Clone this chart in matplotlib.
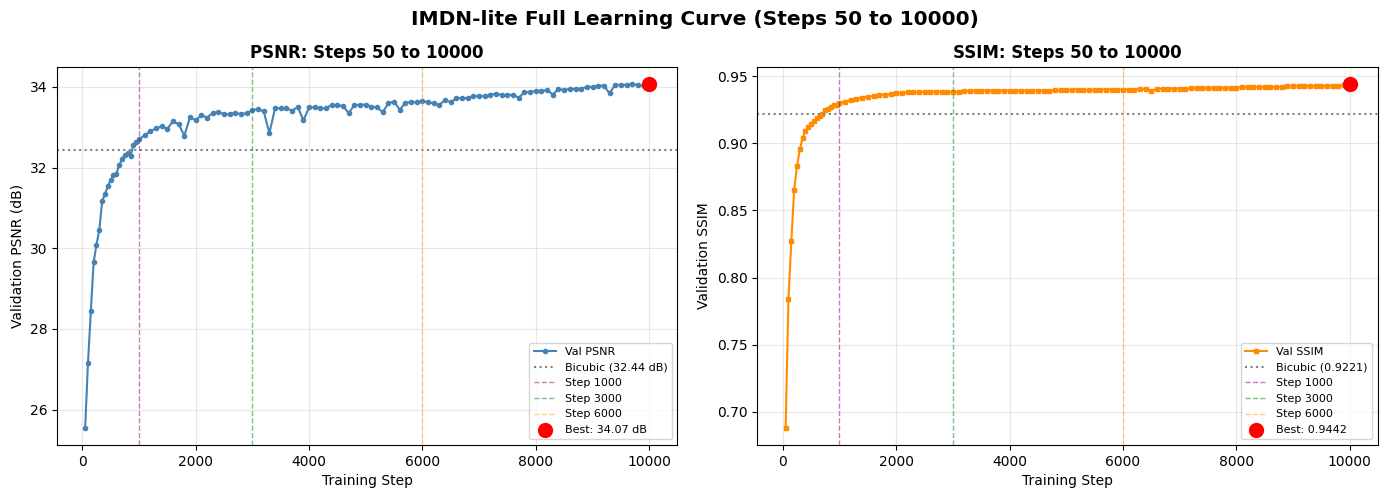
import matplotlib
matplotlib.use('Agg')
import matplotlib.pyplot as plt

# evaluation schedule: every 50 steps up to 1000, then every 100
steps = list(range(50, 1001, 50)) + list(range(1100, 10001, 100))

val_psnr = [
    25.55, 27.16, 28.44, 29.66, 30.09, 30.46, 31.17, 31.34, 31.54, 31.69,
    31.82, 31.85, 32.06, 32.20, 32.32, 32.36, 32.28, 32.55, 32.63, 32.70,
    32.80, 32.90, 32.97, 33.02, 32.96, 33.15, 33.07, 32.79, 33.25, 33.17,
    33.30, 33.24, 33.35, 33.38, 33.32, 33.32, 33.36, 33.32, 33.35, 33.42,
    33.45, 33.39, 32.85, 33.47, 33.47, 33.47, 33.41, 33.50, 33.17, 33.49,
    33.49, 33.47, 33.47, 33.55, 33.55, 33.52, 33.35, 33.55, 33.55, 33.56,
    33.51, 33.49, 33.37, 33.60, 33.63, 33.43, 33.61, 33.62, 33.62, 33.65,
    33.62, 33.59, 33.56, 33.67, 33.62, 33.72, 33.72, 33.72, 33.77, 33.77,
    33.77, 33.81, 33.83, 33.80, 33.80, 33.80, 33.73, 33.87, 33.87, 33.90,
    33.90, 33.92, 33.81, 33.95, 33.92, 33.95, 33.95, 33.95, 34.00, 34.00,
    34.03, 34.03, 33.84, 34.05, 34.05, 34.05, 34.06, 34.05, 34.03, 34.07,
]

val_ssim = [
    0.6880, 0.7840, 0.8270, 0.8650, 0.8830, 0.8955, 0.9040, 0.9090, 0.9120, 0.9146,
    0.9169, 0.9189, 0.9201, 0.9219, 0.9246, 0.9259, 0.9272, 0.9282, 0.9289, 0.9299,
    0.9309, 0.9322, 0.9332, 0.9340, 0.9347, 0.9354, 0.9358, 0.9362, 0.9367, 0.9372,
    0.9374, 0.9379, 0.9380, 0.9380, 0.9381, 0.9385, 0.9385, 0.9385, 0.9383, 0.9381,
    0.9382, 0.9387, 0.9392, 0.9392, 0.9393, 0.9392, 0.9393, 0.9392, 0.9393, 0.9392,
    0.9393, 0.9392, 0.9392, 0.9393, 0.9393, 0.9392, 0.9393, 0.9394, 0.9394, 0.9395,
    0.9400, 0.9401, 0.9395, 0.9396, 0.9399, 0.9401, 0.9400, 0.9400, 0.9401, 0.9400,
    0.9401, 0.9401, 0.9403, 0.9403, 0.9393, 0.9405, 0.9406, 0.9407, 0.9407, 0.9407,
    0.9407, 0.9410, 0.9411, 0.9411, 0.9411, 0.9411, 0.9411, 0.9412, 0.9412, 0.9416,
    0.9417, 0.9417, 0.9417, 0.9417, 0.9417, 0.9417, 0.9418, 0.9418, 0.9424, 0.9425,
    0.9425, 0.9425, 0.9425, 0.9425, 0.9425, 0.9426, 0.9430, 0.9428, 0.9436, 0.9442,
]

bicubic_psnr = 32.44
bicubic_ssim = 0.9221
milestones = [1000, 3000, 6000]
milestone_colors = ['purple', 'green', 'orange']

best_psnr_idx = val_psnr.index(max(val_psnr))
best_ssim_idx = val_ssim.index(max(val_ssim))

fig, axes = plt.subplots(1, 2, figsize=(13.89, 4.95), dpi=100)

# PSNR
ax = axes[0]
ax.plot(steps, val_psnr, 'o-', color='steelblue', linewidth=1.5, markersize=3, label='Val PSNR')
ax.axhline(bicubic_psnr, color='gray', linestyle=':', linewidth=1.5, label=f'Bicubic ({bicubic_psnr:.2f} dB)')
for m, c in zip(milestones, milestone_colors):
    ax.axvline(m, color=c, linestyle='--', linewidth=1, alpha=0.5, label=f'Step {m}')
ax.scatter(steps[best_psnr_idx], val_psnr[best_psnr_idx], color='red', s=100, zorder=5,
           label=f'Best: {val_psnr[best_psnr_idx]:.2f} dB')
ax.set_xlabel('Training Step')
ax.set_ylabel('Validation PSNR (dB)')
ax.set_title('PSNR: Steps 50 to 10000', fontweight='bold', fontsize=12)
ax.legend(fontsize=8, loc='lower right')
ax.grid(True, alpha=0.3)

# SSIM
ax = axes[1]
ax.plot(steps, val_ssim, 's-', color='darkorange', linewidth=1.5, markersize=3, label='Val SSIM')
ax.axhline(bicubic_ssim, color='gray', linestyle=':', linewidth=1.5, label=f'Bicubic ({bicubic_ssim:.4f})')
for m, c in zip(milestones, milestone_colors):
    ax.axvline(m, color=c, linestyle='--', linewidth=1, alpha=0.5, label=f'Step {m}')
ax.scatter(steps[best_ssim_idx], val_ssim[best_ssim_idx], color='red', s=100, zorder=5,
           label=f'Best: {val_ssim[best_ssim_idx]:.4f}')
ax.set_xlabel('Training Step')
ax.set_ylabel('Validation SSIM')
ax.set_title('SSIM: Steps 50 to 10000', fontweight='bold', fontsize=12)
ax.legend(fontsize=8, loc='lower right')
ax.grid(True, alpha=0.3)

fig.suptitle('IMDN-lite Full Learning Curve (Steps 50 to 10000)', fontweight='bold', fontsize=14.5, y=0.98)
plt.subplots_adjust(left=0.041, right=0.992, top=0.865, bottom=0.101, wspace=0.129)
plt.savefig('out.png', dpi=100)
